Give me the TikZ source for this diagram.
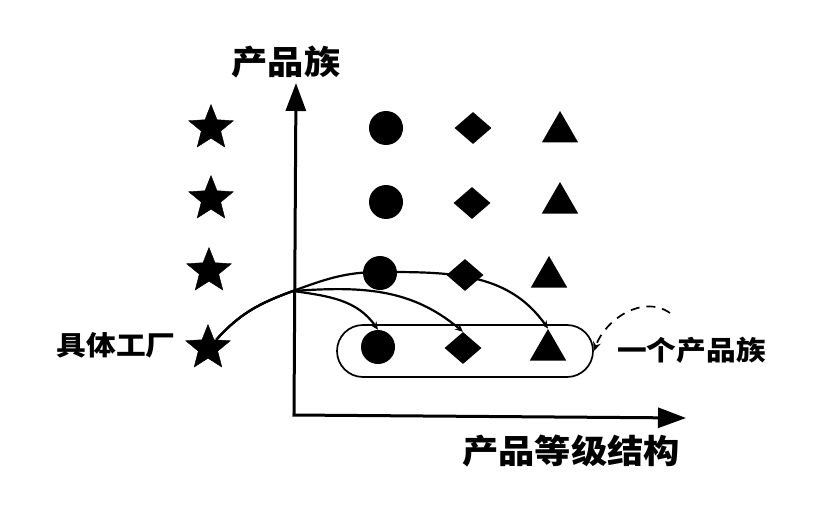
\documentclass[tikz,border=0pt]{standalone}
\usepackage{fontspec}
\newfontfamily\cjk{Noto Sans CJK SC}
\usetikzlibrary{shapes.geometric,arrows.meta}
\begin{document}
\begin{tikzpicture}[x=1pt,y=1pt,
  prodstar/.style={star,star points=5,star point ratio=2.3,fill=black,draw=black,minimum size=47pt,inner sep=0pt},
  prodcirc/.style={circle,fill=black,minimum size=34pt,inner sep=0pt},
  proddiam/.style={diamond,fill=black,minimum width=37pt,minimum height=32pt,inner sep=0pt},
  prodtri/.style={regular polygon,regular polygon sides=3,fill=black,minimum size=42pt,inner sep=0pt},
  bigtxt/.style={font=\cjk\bfseries\fontsize{33}{36}\selectfont,inner sep=0pt,xscale=1.1},
  smalltxt/.style={font=\cjk\bfseries\fontsize{27}{30}\selectfont,inner sep=0pt,xscale=1.1},
  axis/.style={line width=3pt,-{Triangle[length=28pt,width=20pt]}},
  link/.style={line width=2.2pt,-{Stealth[length=8pt,width=7pt]}},
]
\useasboundingbox (0,0) rectangle (819,-508);
% axes
\coordinate (O) at (294,-415);
\coordinate (Ytip) at (296,-83);
\coordinate (Xtip) at (686,-418);
\draw[axis] (O) -- (Ytip);
\draw[axis] ([xshift=-1.5pt]O) -- (Xtip);
\node[bigtxt] (ylab) at (286,-62) {产品族};
\node[bigtxt] (xlab) at (571,-451) {产品等级结构};
% stars
\node[prodstar] (s1) at (211,-128) {};
\node[prodstar] (s2) at (211,-199) {};
\node[prodstar] (s3) at (209,-271) {};
\node[prodstar] (s4) at (208,-348) {};
% row 1
\node[prodcirc] (c1) at (386,-128) {};
\node[proddiam] (d1) at (473,-128) {};
\node[prodtri] (t1) at (560,-132) {};
% row 2
\node[prodcirc] (c2) at (386,-202) {};
\node[proddiam] (d2) at (472,-203) {};
\node[prodtri] (t2) at (560,-203) {};
% row 3
\node[prodcirc] (c3) at (380,-273) {};
\node[proddiam] (d3) at (465,-275) {};
\node[prodtri] (t3) at (549,-277) {};
% row 4
\node[prodcirc] (c4) at (378,-347) {};
\node[proddiam] (d4) at (463,-348) {};
\node[prodtri] (t4) at (548,-350) {};
% product family outline
\node[draw,line width=1.7pt,rounded corners=26pt,minimum width=256pt,minimum height=52pt,inner sep=0pt] (fam) at (465,-351) {};
% labels
\node[smalltxt] (fac) at (116,-345) {具体工厂};
\node[smalltxt,anchor=west] (famlab) at (617,-350) {一个产品族};
% links from concrete factory
\coordinate (J) at (293,-291);
\draw[link] (s4.north east) to[out=48,in=200] (J) to[out=20,in=180] (380,-272) to[out=0,in=125] (t4.north);
\draw[link] (s4.north east) to[out=48,in=200] (J) to[out=4,in=140] (d4.north);
\draw[link] (s4.north east) to[out=48,in=200] (J) to[out=-8,in=125] (c4.north);
% dashed pointer
\coordinate (dstart) at (670,-313);
\draw[line width=1.7pt,dash pattern=on 9pt off 7pt,-{Stealth[length=9pt,width=8pt]}] (dstart) to[out=145,in=70] (fam.east);
\end{tikzpicture}
\end{document}
